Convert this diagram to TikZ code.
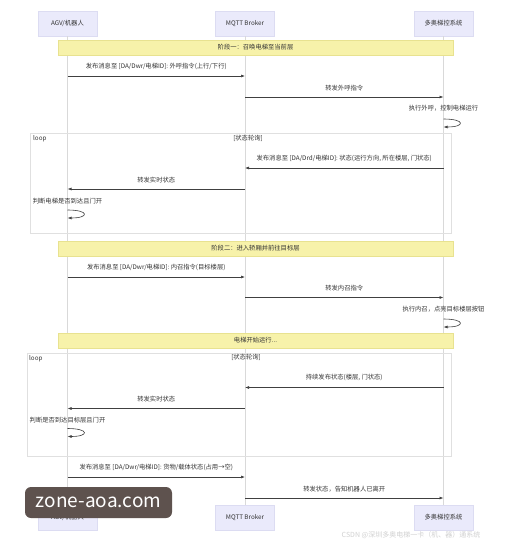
\documentclass[tikz,border=0pt]{standalone}
\usepackage{fontspec}
\setmainfont{Noto Sans CJK SC}
\usetikzlibrary{arrows.meta}
\definecolor{actorfill}{HTML}{EAEAFB}
\definecolor{actorline}{HTML}{DCDCF2}
\definecolor{notefill}{HTML}{F7F2AA}
\definecolor{noteline}{HTML}{E8E290}
\definecolor{markbox}{HTML}{5E524E}

\begin{document}
\begin{tikzpicture}
      [x=1pt,y=-1pt,
       every node/.style={font=\fontsize{6.3}{8}\selectfont, inner sep=0pt, text=black!80},
       actor/.style={draw=actorline, fill=actorfill, minimum width=59pt, minimum height=25pt},
       phase/.style={draw=noteline, fill=notefill, minimum width=395pt, minimum height=15pt},
       life/.style={draw=black!15, line width=0.6pt},
       loopbox/.style={draw=black!12, line width=0.5pt},
       msg/.style={draw=black!75, line width=0.6pt, -{Latex[length=4pt,width=3pt]}},
       lbl/.style={above=6pt}]
    \fill[white] (0,0) rectangle (511,543);
    \useasboundingbox (0,0) rectangle (511,543);

    % actors
    \node[actor] (a1) at (67.5,23.5) {AGV/机器人};
    \node[actor] (b1) at (245,23.5) {MQTT Broker};
    \node[actor] (c1) at (443.5,23.5) {多奥梯控系统};
    \node[actor] (a2) at (67.5,517.5) {AGV/机器人};
    \node[actor] (b2) at (245,517.5) {MQTT Broker};
    \node[actor] (c2) at (443.5,517.5) {多奥梯控系统};

    \foreach \p in {a,b,c}
      \draw[life] (\p1) -- (\p2);

    % loop frames
    \draw[loopbox] (30,133) rectangle (451,233);
    \draw[loopbox] (27,353) rectangle (451,456);
    \node[anchor=north west] (lp1) at (33,135) {loop};
    \node (lc1) at (248,138) {[状态轮询]};
    \node[anchor=north west] (lp2) at (29,355) {loop};
    \node (lc2) at (246,357) {[状态轮询]};

    % phases
    \node[phase] (ph1) at (255.5,47.5) {阶段一：召唤电梯至当前层};
    \node[phase] (ph2) at (255.5,248.5) {阶段二：进入轿厢并前往目标层};
    \node[phase] (ph3) at (255.5,340.5) {电梯开始运行...};

    % stage one
    \draw[msg] (a1 |- 0,76) -- (b1 |- 0,76)
      node[midway,lbl] {发布消息至 [DA/Dwr/电梯ID]: 外呼指令(上行/下行)};
    \draw[msg] (b1 |- 0,97) -- (c1 |- 0,97)
      node[midway,lbl] {转发外呼指令};
    \node (s1) at (443.5,108) {执行外呼，控制电梯运行};
    \draw[msg] (c1 |- 0,119) .. controls +(22,0) and +(22,0) .. (c1 |- 0,127);
    \draw[msg] (c1 |- 0,168) -- (b1 |- 0,168)
      node[midway,lbl] {发布消息至 [DA/Drd/电梯ID]: 状态(运行方向, 所在楼层, 门状态)};
    \draw[msg] (b1 |- 0,189) -- (a1 |- 0,189)
      node[midway,lbl] {转发实时状态};
    \node (s2) at (67.5,201) {判断电梯是否到达且门开};
    \draw[msg] (a1 |- 0,210) .. controls +(22,0) and +(22,0) .. (a1 |- 0,218);

    % stage two
    \draw[msg] (a1 |- 0,277) -- (b1 |- 0,277)
      node[midway,lbl] {发布消息至 [DA/Dwr/电梯ID]: 内召指令(目标楼层)};
    \draw[msg] (b1 |- 0,297.5) -- (c1 |- 0,297.5)
      node[midway,lbl] {转发内召指令};
    \node (s3) at (443.5,309) {执行内召，点亮目标楼层按钮};
    \draw[msg] (c1 |- 0,319) .. controls +(22,0) and +(22,0) .. (c1 |- 0,327);
    \draw[msg] (c1 |- 0,387.5) -- (b1 |- 0,387.5)
      node[midway,lbl] {持续发布状态(楼层, 门状态)};
    \draw[msg] (b1 |- 0,408.5) -- (a1 |- 0,408.5)
      node[midway,lbl] {转发实时状态};
    \node (s4) at (67.5,420) {判断是否到达目标层且门开};
    \draw[msg] (a1 |- 0,428.5) .. controls +(22,0) and +(22,0) .. (a1 |- 0,436.5);
    \draw[msg] (a1 |- 0,477) -- (b1 |- 0,477)
      node[midway,lbl] {发布消息至 [DA/Dwr/电梯ID]: 货物/载体状态(占用→空)};
    \draw[msg] (b1 |- 0,498) -- (c1 |- 0,498)
      node[midway,lbl] {转发状态，告知机器人已离开};

    % watermarks
    \node[fill=markbox, rounded corners=6pt, minimum width=147pt, minimum height=31pt,
          font=\fontsize{19}{20}\selectfont, text=white] (wm) at (98.5,502.5) {zone-aoa.com};
    \node[text=black!18, font=\fontsize{7}{8}\selectfont] (cs) at (411,535) {CSDN @深圳多奥电梯一卡（机、器）通系统};
\end{tikzpicture}
\end{document}
